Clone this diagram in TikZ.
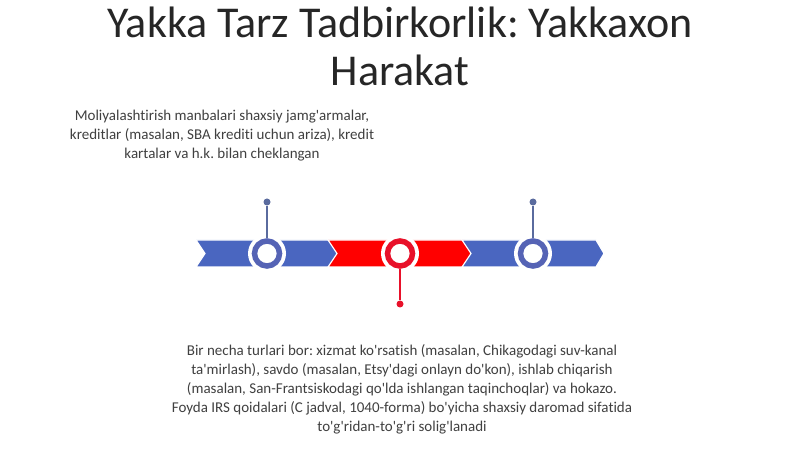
\documentclass[tikz,border=0pt]{standalone}
\usepackage{fontspec}
\setmainfont{Carlito}[Ligatures={TeXOff,CommonOff}]
\frenchspacing
\definecolor{bandblue}{HTML}{4A66C0}
\definecolor{ringblue}{HTML}{5563B5}
\definecolor{stemblue}{HTML}{5A6B9E}
\definecolor{bandred}{HTML}{FF0000}
\definecolor{ringred}{HTML}{E8112A}
\definecolor{txt}{HTML}{404040}
\definecolor{ttl}{HTML}{262626}
\tikzset{
  seg/.style={draw=white,line width=1.2bp,line join=miter},
  ringnode/.style={circle,minimum size=25bp,inner sep=0pt,line width=5.5bp,fill=white},
  halo/.style={circle,minimum size=38bp,inner sep=0pt,fill=white},
  dotnode/.style={circle,minimum size=7bp,inner sep=0pt},
  stem/.style={line width=1.5bp},
  body/.style={align=center,text=txt,font=\fontsize{15bp}{19bp}\selectfont\frenchspacing,inner sep=0pt}
}
\begin{document}
\begin{tikzpicture}[x=1bp,y=-1bp]
\useasboundingbox[fill=white] (0,0) rectangle (800,449);
% title
\node[align=center,text=ttl,font=\fontsize{44bp}{48bp}\selectfont\frenchspacing,inner sep=0pt] (title) at (400,46)
  {Yakka Tarz Tadbirkorlik: Yakkaxon\\Harakat};
% band segments
\fill[bandblue,seg] (196,240) -- (330,240) -- (338,253.5) -- (330,267) -- (196,267) -- (205,253.5) -- cycle;
\fill[bandred,seg] (328,240) -- (465,240) -- (473,253.5) -- (465,267) -- (328,267) -- (337,253.5) -- cycle;
\fill[bandblue,seg] (462,240) -- (596,240) -- (604,253.5) -- (596,267) -- (462,267) -- (471,253.5) -- cycle;
% circles
\node[halo] (h1) at (267,253.5) {};
\node[halo] (h2) at (400,253.5) {};
\node[halo] (h3) at (533,253.5) {};
\node[ringnode,draw=ringblue] (c1) at (267,253.5) {};
\node[ringnode,draw=ringred] (c2) at (400,253.5) {};
\node[ringnode,draw=ringblue] (c3) at (533,253.5) {};
% dots and stems
\node[dotnode,fill=stemblue] (d1) at (267,202) {};
\node[dotnode,fill=ringred] (d2) at (400,304) {};
\node[dotnode,fill=stemblue] (d3) at (533,202) {};
\draw[stem,stemblue] (d1) -- (c1.north);
\draw[stem,ringred] (c2.south) -- (d2);
\draw[stem,stemblue] (d3) -- (c3.north);
% texts
\node[body] (t1) at (222,136)
  {Moliyalashtirish manbalari shaxsiy jamg'armalar,\\kreditlar (masalan, SBA krediti uchun ariza), kredit\\kartalar va h.k. bilan cheklangan};
\node[body] (t2) at (402,389)
  {Bir necha turlari bor: xizmat ko'rsatish (masalan, Chikagodagi suv-kanal\\ta'mirlash), savdo (masalan, Etsy'dagi onlayn do'kon), ishlab chiqarish\\(masalan, San-Frantsiskodagi qo'lda ishlangan taqinchoqlar) va hokazo.\\Foyda IRS qoidalari (C jadval, 1040-forma) bo'yicha shaxsiy daromad sifatida\\to'g'ridan-to'g'ri solig'lanadi};
\end{tikzpicture}
\end{document}
